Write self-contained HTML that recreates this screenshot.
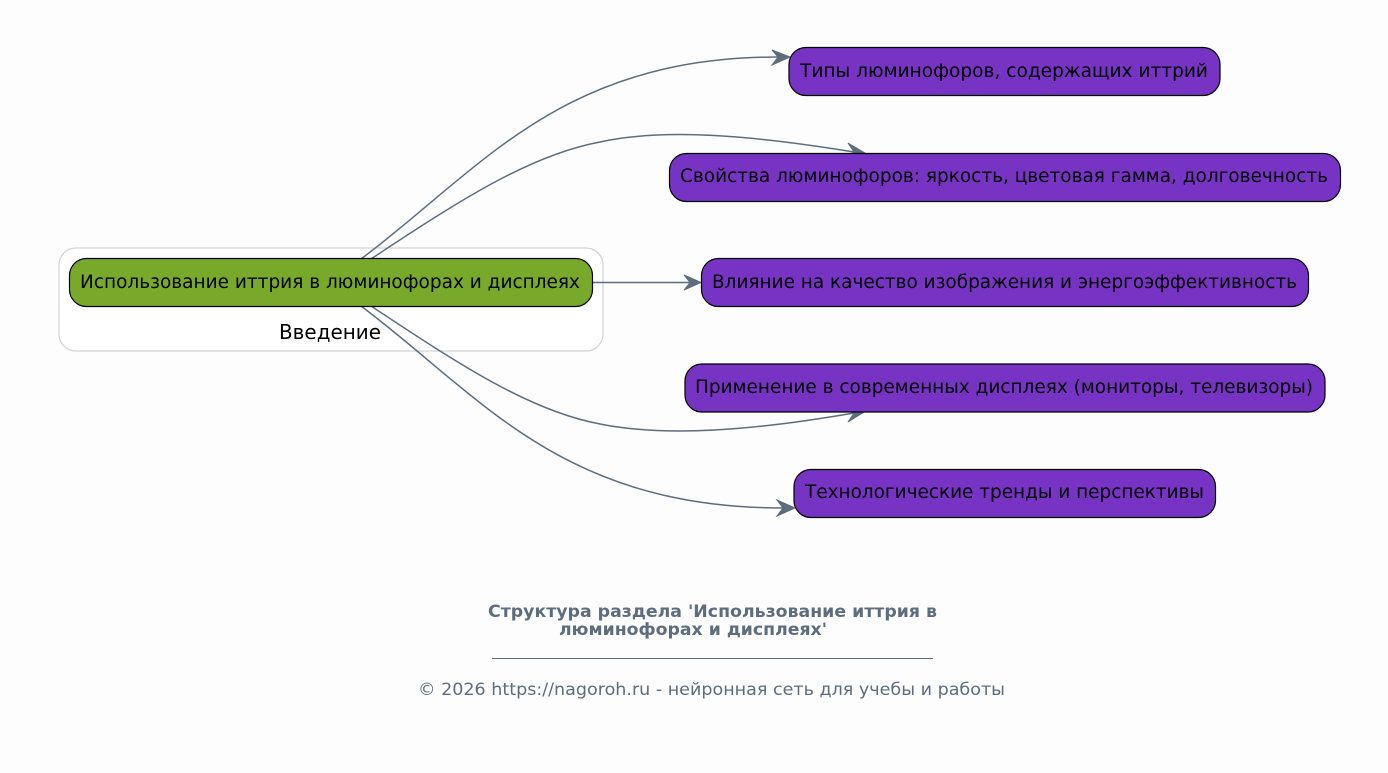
<!DOCTYPE html>
<html><head><meta charset="utf-8"><style>
html,body{margin:0;padding:0;background:#fdfdfd;width:1388px;height:773px;overflow:hidden}
svg{display:block}
text{font-family:"DejaVu Sans","Liberation Sans",sans-serif;fill:#000;font-size:18.4px}
.n{stroke:#000;stroke-width:1.2}
.p{fill:#7733c3}
.e{fill:none;stroke:#5d6d7e;stroke-width:1.5}
.a{fill:#5d6d7e;stroke:#5d6d7e;stroke-width:1}
.g{fill:#5d6d7e}
</style></head><body>
<svg width="1388" height="773" viewBox="0 0 1388 773" xmlns="http://www.w3.org/2000/svg">
<rect width="1388" height="773" fill="#fdfdfd"/>
<rect x="59" y="248" width="544" height="103" rx="17" fill="#fff" stroke="#d3d3d3" stroke-width="1.2"/>
<text x="279" y="339" textLength="102" lengthAdjust="spacingAndGlyphs" style="font-size:20px">Введение</text>

<path class="e" d="M361 259 C480 170 560 57 778 57"/>
<polygon class="a" points="790,57 772,50 778,57 772,65"/>
<path class="e" d="M371 259 C460 200 530 155 600 142 C665 128 750 135 854 152"/>
<polygon class="a" points="865,153 848,143 854,152 846,158"/>
<path class="e" d="M592.500 282.500 H690"/>
<polygon class="a" points="701,282.500 684,275 690,282.500 684,290"/>
<path class="e" d="M371 306 C460 365 530 411 600 424 C665 437 750 431 854 413"/>
<polygon class="a" points="865,411.500 847,407 854,413 848,422"/>
<path class="e" d="M361 306 C480 395 560 508 783 508"/>
<polygon class="a" points="795,508 777,500 783,508 777,516"/>

<rect class="n" x="69.500" y="258.500" width="523" height="48" rx="17" fill="#78a92a"/>
<text x="80" y="288" textLength="500" lengthAdjust="spacingAndGlyphs">Использование иттрия в люминофорах и дисплеях</text>

<rect class="n p" x="789" y="47.500" width="431" height="48" rx="17"/>
<text x="800" y="77" textLength="408" lengthAdjust="spacingAndGlyphs">Типы люминофоров, содержащих иттрий</text>
<rect class="n p" x="669.500" y="153.500" width="671" height="48" rx="17"/>
<text x="680" y="182" textLength="648" lengthAdjust="spacingAndGlyphs">Свойства люминофоров: яркость, цветовая гамма, долговечность</text>
<rect class="n p" x="701.500" y="258.500" width="607" height="48" rx="17"/>
<text x="712" y="288" textLength="585" lengthAdjust="spacingAndGlyphs">Влияние на качество изображения и энергоэффективность</text>
<rect class="n p" x="685" y="364" width="640" height="48" rx="17"/>
<text x="695" y="393" textLength="618" lengthAdjust="spacingAndGlyphs">Применение в современных дисплеях (мониторы, телевизоры)</text>
<rect class="n p" x="794" y="469.500" width="421.500" height="48" rx="17"/>
<text x="805" y="498" textLength="399" lengthAdjust="spacingAndGlyphs">Технологические тренды и перспективы</text>

<text class="g" x="488" y="617" textLength="449" lengthAdjust="spacingAndGlyphs" style="font-size:16.5px;font-weight:bold">Структура раздела 'Использование иттрия в</text>
<text class="g" x="559" y="635" textLength="268" lengthAdjust="spacingAndGlyphs" style="font-size:16.5px;font-weight:bold">люминофорах и дисплеях'</text>
<line x1="492" y1="658.500" x2="933" y2="658.500" stroke="#5d6d7e" stroke-width="1"/>
<text class="g" x="418" y="695" textLength="587" lengthAdjust="spacingAndGlyphs" style="font-size:17px">© 2026 https://nagoroh.ru - нейронная сеть для учебы и работы</text>
</svg>
</body></html>
